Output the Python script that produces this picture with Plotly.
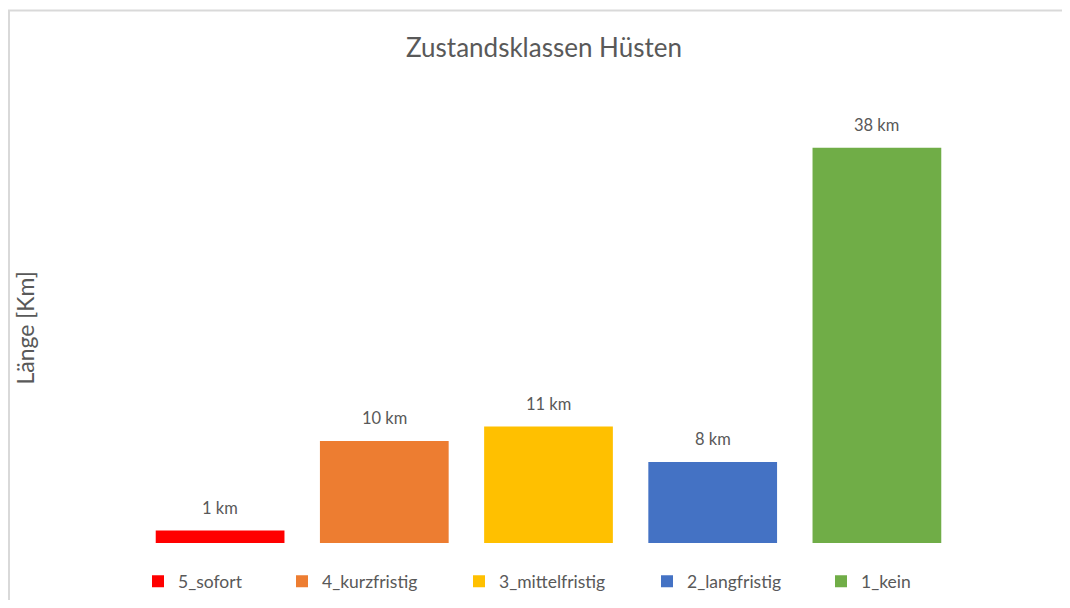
import plotly.graph_objects as go

categories = ["5_sofort", "4_kurzfristig", "3_mittelfristig", "2_langfristig", "1_kein"]
lengths_km = [1.2, 9.8, 11.2, 7.8, 38.0]
colors = ["#FF0000", "#ED7D31", "#FFC000", "#4472C4", "#70AD47"]
title_text = "Zustandsklassen Hüsten"
y_title = "Länge [Km]"

# page body has an 8px margin -> figure is drawn 8px right/down
W, H = 1054, 592
ML, MT = 130, 118.5
PW, PH = 821, 416.8
MR = W - ML - PW
MB = H - MT - PH
FONT = "Lato"
GRAY = "#595959"


def px_x(p):
    return (p - ML) / PW


def px_y(p):
    return (MT + PH - p) / PH


fig = go.Figure()
legend_px = [150, 294, 471, 659, 833]  # legend marker left edges (figure px)
for i, (c, v, col) in enumerate(zip(categories, lengths_km, colors)):
    lg = "legend" if i == 0 else f"legend{i+1}"
    fig.add_trace(go.Bar(
        x=[c], y=[v], name=c, marker=dict(color=col, line=dict(width=0)),
        legend=lg, showlegend=True,
    ))
    fig.add_annotation(x=c, y=v, text=f"{v:.0f} km", showarrow=False,
                       yanchor="bottom", yshift=11,
                       font=dict(family=FONT, size=16.5, color=GRAY))

layout_legends = {}
for i, p in enumerate(legend_px):
    lg = "legend" if i == 0 else f"legend{i+1}"
    layout_legends[lg] = dict(
        x=px_x(p - 20), xanchor="left",
        y=px_y(573.7), yanchor="middle", orientation="h",
        font=dict(family=FONT, size=17.5, color=GRAY),
        bgcolor="rgba(0,0,0,0)", borderwidth=0,
    )

fig.update_layout(
    width=W, height=H,
    margin=dict(l=ML, r=MR, t=MT, b=MB, autoexpand=False),
    paper_bgcolor="white", plot_bgcolor="white",
    bargap=0.216, barmode="group",
    title=dict(text=title_text, x=536 / W, xref="container", xanchor="center",
               y=1 - 39.7 / H, yref="container", yanchor="middle",
               font=dict(family=FONT, size=26, color=GRAY)),
    xaxis=dict(categoryorder="array", categoryarray=categories,
               showticklabels=False, showgrid=False, zeroline=False,
               showline=False, ticks=""),
    yaxis=dict(range=[0, 40], showticklabels=False, showgrid=False,
               zeroline=False, showline=False, ticks=""),
    **layout_legends,
)

# y-axis title
fig.add_annotation(text=y_title, textangle=-90, showarrow=False,
                   xref="paper", yref="paper", x=px_x(17), y=px_y(319.5),
                   xanchor="center", yanchor="middle",
                   font=dict(family=FONT, size=23, color=GRAY))

# light gray chart border (left and top visible)
fig.add_shape(type="rect", xref="paper", yref="paper",
              x0=px_x(1), x1=px_x(W + 20),
              y0=px_y(H + 20), y1=px_y(1.8),
              line=dict(color="#D9D9D9", width=2), fillcolor="rgba(0,0,0,0)",
              layer="below")

fig.write_html("out.html")
